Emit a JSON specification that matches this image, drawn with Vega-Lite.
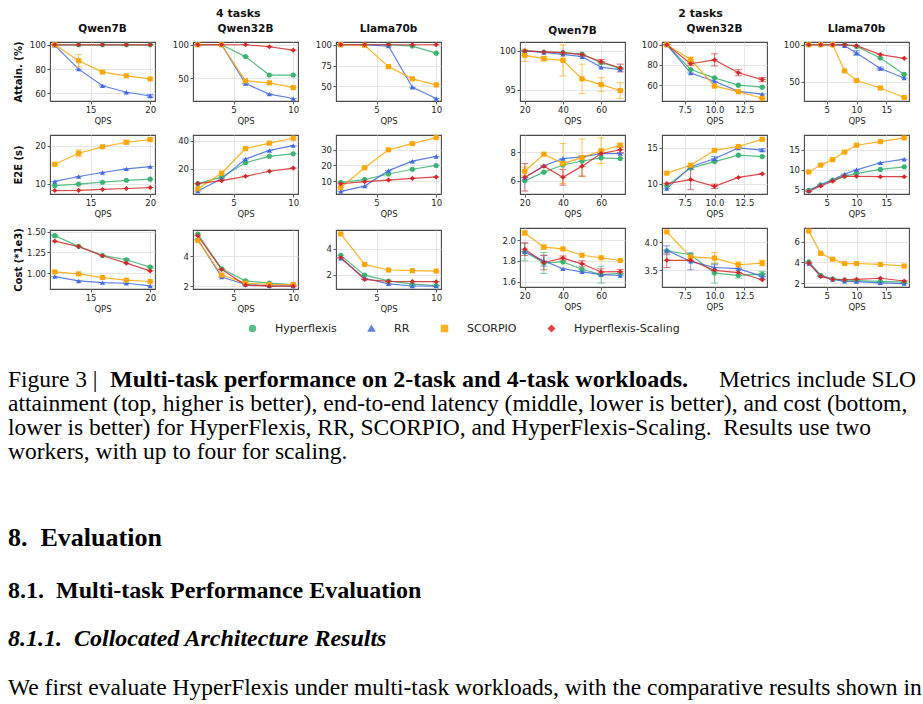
{
  "$schema": "https://vega.github.io/schema/vega-lite/v6.json",
  "background": "white",
  "padding": {"left": 8, "top": 7, "right": 5, "bottom": 5},
  "spacing": 33,
  "resolve": {"legend": {"color": "independent", "shape": "independent"}},
  "vconcat": [
    {
      "spacing": 52,
      "hconcat": [
        {
          "title": {"text": "4 tasks", "anchor": "middle", "fontSize": 11, "offset": 5, "dx": 11},
          "columns": 3,
          "align": "each",
          "spacing": {"row": 8, "column": 11},
          "concat": [
            {"width": 105, "height": 59, "title": "Qwen7B", "data": {"name": "a4q7"},
             "encoding": {
               "x": {"field": "qps", "type": "quantitative", "scale": {"domain": [11.6, 20.4], "nice": false, "zero": false}, "axis": {"values": [15, 20], "format": "d", "title": "QPS"}},
               "y": {"field": "value", "type": "quantitative", "scale": {"domain": [53.8, 102.3], "nice": false, "zero": false}, "axis": {"values": [60, 80, 100], "format": "d", "title": "Attain. (%)"}},
               "color": {"field": "method", "type": "nominal", "title": null, "scale": {"domain": ["Hyperflexis", "RR", "SCORPIO", "Hyperflexis-Scaling"], "range": ["#3cb371", "#4169e1", "#ffa500", "#d62728"]}}},
             "layer": [
               {"mark": {"type": "line", "strokeWidth": 1.2, "opacity": 0.85}},
               {"transform": [{"filter": "datum.err > 0"}], "mark": {"type": "errorbar", "ticks": true, "size": 7, "thickness": 1, "opacity": 0.65}, "encoding": {"yError": {"field": "err"}}},
               {"mark": {"type": "tick", "orient": "horizontal", "size": 7, "thickness": 1, "opacity": 0.65}},
               {"mark": {"type": "point", "filled": true, "size": 26, "opacity": 1}, "encoding": {"shape": {"field": "method", "type": "nominal", "title": null, "scale": {"domain": ["Hyperflexis", "RR", "SCORPIO", "Hyperflexis-Scaling"], "range": ["circle", "triangle-up", "square", "diamond"]}}}}]},
            {"width": 105, "height": 59, "title": "Qwen32B", "data": {"name": "a4q32"},
             "encoding": {
               "x": {"field": "qps", "type": "quantitative", "scale": {"domain": [1.6, 10.4], "nice": false, "zero": false}, "axis": {"values": [5, 10], "format": "d", "title": "QPS"}},
               "y": {"field": "value", "type": "quantitative", "scale": {"domain": [15.7, 104.1], "nice": false, "zero": false}, "axis": {"values": [50, 100], "format": "d", "title": null}},
               "color": {"field": "method", "type": "nominal", "title": null, "scale": {"domain": ["Hyperflexis", "RR", "SCORPIO", "Hyperflexis-Scaling"], "range": ["#3cb371", "#4169e1", "#ffa500", "#d62728"]}}},
             "layer": [
               {"mark": {"type": "line", "strokeWidth": 1.2, "opacity": 0.85}},
               {"transform": [{"filter": "datum.err > 0"}], "mark": {"type": "errorbar", "ticks": true, "size": 7, "thickness": 1, "opacity": 0.65}, "encoding": {"yError": {"field": "err"}}},
               {"mark": {"type": "tick", "orient": "horizontal", "size": 7, "thickness": 1, "opacity": 0.65}},
               {"mark": {"type": "point", "filled": true, "size": 26, "opacity": 1}, "encoding": {"shape": {"field": "method", "type": "nominal", "title": null, "scale": {"domain": ["Hyperflexis", "RR", "SCORPIO", "Hyperflexis-Scaling"], "range": ["circle", "triangle-up", "square", "diamond"]}}}}]},
            {"width": 105, "height": 59, "title": "Llama70b", "data": {"name": "a4l70"},
             "encoding": {
               "x": {"field": "qps", "type": "quantitative", "scale": {"domain": [1.6, 10.4], "nice": false, "zero": false}, "axis": {"values": [5, 10], "format": "d", "title": "QPS"}},
               "y": {"field": "value", "type": "quantitative", "scale": {"domain": [32.3, 103.3], "nice": false, "zero": false}, "axis": {"values": [50, 75, 100], "format": "d", "title": null}},
               "color": {"field": "method", "type": "nominal", "title": null, "scale": {"domain": ["Hyperflexis", "RR", "SCORPIO", "Hyperflexis-Scaling"], "range": ["#3cb371", "#4169e1", "#ffa500", "#d62728"]}}},
             "layer": [
               {"mark": {"type": "line", "strokeWidth": 1.2, "opacity": 0.85}},
               {"transform": [{"filter": "datum.err > 0"}], "mark": {"type": "errorbar", "ticks": true, "size": 7, "thickness": 1, "opacity": 0.65}, "encoding": {"yError": {"field": "err"}}},
               {"mark": {"type": "tick", "orient": "horizontal", "size": 7, "thickness": 1, "opacity": 0.65}},
               {"mark": {"type": "point", "filled": true, "size": 26, "opacity": 1}, "encoding": {"shape": {"field": "method", "type": "nominal", "title": null, "scale": {"domain": ["Hyperflexis", "RR", "SCORPIO", "Hyperflexis-Scaling"], "range": ["circle", "triangle-up", "square", "diamond"]}}}}]},
            {"width": 105, "height": 59, "data": {"name": "e4q7"},
             "encoding": {
               "x": {"field": "qps", "type": "quantitative", "scale": {"domain": [11.6, 20.4], "nice": false, "zero": false}, "axis": {"values": [15, 20], "format": "d", "title": "QPS"}},
               "y": {"field": "value", "type": "quantitative", "scale": {"domain": [7.3, 22.8], "nice": false, "zero": false}, "axis": {"values": [10, 20], "format": "d", "title": "E2E (s)"}},
               "color": {"field": "method", "type": "nominal", "title": null, "scale": {"domain": ["Hyperflexis", "RR", "SCORPIO", "Hyperflexis-Scaling"], "range": ["#3cb371", "#4169e1", "#ffa500", "#d62728"]}}},
             "layer": [
               {"mark": {"type": "line", "strokeWidth": 1.2, "opacity": 0.85}},
               {"transform": [{"filter": "datum.err > 0"}], "mark": {"type": "errorbar", "ticks": true, "size": 7, "thickness": 1, "opacity": 0.65}, "encoding": {"yError": {"field": "err"}}},
               {"mark": {"type": "tick", "orient": "horizontal", "size": 7, "thickness": 1, "opacity": 0.65}},
               {"mark": {"type": "point", "filled": true, "size": 26, "opacity": 1}, "encoding": {"shape": {"field": "method", "type": "nominal", "title": null, "scale": {"domain": ["Hyperflexis", "RR", "SCORPIO", "Hyperflexis-Scaling"], "range": ["circle", "triangle-up", "square", "diamond"]}}}}]},
            {"width": 105, "height": 59, "data": {"name": "e4q32"},
             "encoding": {
               "x": {"field": "qps", "type": "quantitative", "scale": {"domain": [1.6, 10.4], "nice": false, "zero": false}, "axis": {"values": [5, 10], "format": "d", "title": "QPS"}},
               "y": {"field": "value", "type": "quantitative", "scale": {"domain": [2.2, 43.9], "nice": false, "zero": false}, "axis": {"values": [20, 40], "format": "d", "title": null}},
               "color": {"field": "method", "type": "nominal", "title": null, "scale": {"domain": ["Hyperflexis", "RR", "SCORPIO", "Hyperflexis-Scaling"], "range": ["#3cb371", "#4169e1", "#ffa500", "#d62728"]}}},
             "layer": [
               {"mark": {"type": "line", "strokeWidth": 1.2, "opacity": 0.85}},
               {"transform": [{"filter": "datum.err > 0"}], "mark": {"type": "errorbar", "ticks": true, "size": 7, "thickness": 1, "opacity": 0.65}, "encoding": {"yError": {"field": "err"}}},
               {"mark": {"type": "tick", "orient": "horizontal", "size": 7, "thickness": 1, "opacity": 0.65}},
               {"mark": {"type": "point", "filled": true, "size": 26, "opacity": 1}, "encoding": {"shape": {"field": "method", "type": "nominal", "title": null, "scale": {"domain": ["Hyperflexis", "RR", "SCORPIO", "Hyperflexis-Scaling"], "range": ["circle", "triangle-up", "square", "diamond"]}}}}]},
            {"width": 105, "height": 59, "data": {"name": "e4l70"},
             "encoding": {
               "x": {"field": "qps", "type": "quantitative", "scale": {"domain": [1.6, 10.4], "nice": false, "zero": false}, "axis": {"values": [5, 10], "format": "d", "title": "QPS"}},
               "y": {"field": "value", "type": "quantitative", "scale": {"domain": [1.8, 39.2], "nice": false, "zero": false}, "axis": {"values": [10, 20, 30], "format": "d", "title": null}},
               "color": {"field": "method", "type": "nominal", "title": null, "scale": {"domain": ["Hyperflexis", "RR", "SCORPIO", "Hyperflexis-Scaling"], "range": ["#3cb371", "#4169e1", "#ffa500", "#d62728"]}}},
             "layer": [
               {"mark": {"type": "line", "strokeWidth": 1.2, "opacity": 0.85}},
               {"transform": [{"filter": "datum.err > 0"}], "mark": {"type": "errorbar", "ticks": true, "size": 7, "thickness": 1, "opacity": 0.65}, "encoding": {"yError": {"field": "err"}}},
               {"mark": {"type": "tick", "orient": "horizontal", "size": 7, "thickness": 1, "opacity": 0.65}},
               {"mark": {"type": "point", "filled": true, "size": 26, "opacity": 1}, "encoding": {"shape": {"field": "method", "type": "nominal", "title": null, "scale": {"domain": ["Hyperflexis", "RR", "SCORPIO", "Hyperflexis-Scaling"], "range": ["circle", "triangle-up", "square", "diamond"]}}}}]},
            {"width": 105, "height": 59, "data": {"name": "c4q7"},
             "encoding": {
               "x": {"field": "qps", "type": "quantitative", "scale": {"domain": [11.6, 20.4], "nice": false, "zero": false}, "axis": {"values": [15, 20], "format": "d", "title": "QPS"}},
               "y": {"field": "value", "type": "quantitative", "scale": {"domain": [0.81, 1.52], "nice": false, "zero": false}, "axis": {"values": [1.0, 1.25, 1.5], "format": ".2f", "title": "Cost (*1e3)"}},
               "color": {"field": "method", "type": "nominal", "title": null, "scale": {"domain": ["Hyperflexis", "RR", "SCORPIO", "Hyperflexis-Scaling"], "range": ["#3cb371", "#4169e1", "#ffa500", "#d62728"]}}},
             "layer": [
               {"mark": {"type": "line", "strokeWidth": 1.2, "opacity": 0.85}},
               {"transform": [{"filter": "datum.err > 0"}], "mark": {"type": "errorbar", "ticks": true, "size": 7, "thickness": 1, "opacity": 0.65}, "encoding": {"yError": {"field": "err"}}},
               {"mark": {"type": "tick", "orient": "horizontal", "size": 7, "thickness": 1, "opacity": 0.65}},
               {"mark": {"type": "point", "filled": true, "size": 26, "opacity": 1}, "encoding": {"shape": {"field": "method", "type": "nominal", "title": null, "scale": {"domain": ["Hyperflexis", "RR", "SCORPIO", "Hyperflexis-Scaling"], "range": ["circle", "triangle-up", "square", "diamond"]}}}}]},
            {"width": 105, "height": 59, "data": {"name": "c4q32"},
             "encoding": {
               "x": {"field": "qps", "type": "quantitative", "scale": {"domain": [1.6, 10.4], "nice": false, "zero": false}, "axis": {"values": [5, 10], "format": "d", "title": "QPS"}},
               "y": {"field": "value", "type": "quantitative", "scale": {"domain": [1.83, 5.75], "nice": false, "zero": false}, "axis": {"values": [2, 4], "format": "d", "title": null}},
               "color": {"field": "method", "type": "nominal", "title": null, "scale": {"domain": ["Hyperflexis", "RR", "SCORPIO", "Hyperflexis-Scaling"], "range": ["#3cb371", "#4169e1", "#ffa500", "#d62728"]}}},
             "layer": [
               {"mark": {"type": "line", "strokeWidth": 1.2, "opacity": 0.85}},
               {"transform": [{"filter": "datum.err > 0"}], "mark": {"type": "errorbar", "ticks": true, "size": 7, "thickness": 1, "opacity": 0.65}, "encoding": {"yError": {"field": "err"}}},
               {"mark": {"type": "tick", "orient": "horizontal", "size": 7, "thickness": 1, "opacity": 0.65}},
               {"mark": {"type": "point", "filled": true, "size": 26, "opacity": 1}, "encoding": {"shape": {"field": "method", "type": "nominal", "title": null, "scale": {"domain": ["Hyperflexis", "RR", "SCORPIO", "Hyperflexis-Scaling"], "range": ["circle", "triangle-up", "square", "diamond"]}}}}]},
            {"width": 105, "height": 59, "data": {"name": "c4l70"},
             "encoding": {
               "x": {"field": "qps", "type": "quantitative", "scale": {"domain": [1.6, 10.4], "nice": false, "zero": false}, "axis": {"values": [5, 10], "format": "d", "title": "QPS"}},
               "y": {"field": "value", "type": "quantitative", "scale": {"domain": [0.9, 5.44], "nice": false, "zero": false}, "axis": {"values": [2, 4], "format": "d", "title": null}},
               "color": {"field": "method", "type": "nominal", "title": null, "scale": {"domain": ["Hyperflexis", "RR", "SCORPIO", "Hyperflexis-Scaling"], "range": ["#3cb371", "#4169e1", "#ffa500", "#d62728"]}}},
             "layer": [
               {"mark": {"type": "line", "strokeWidth": 1.2, "opacity": 0.85}},
               {"transform": [{"filter": "datum.err > 0"}], "mark": {"type": "errorbar", "ticks": true, "size": 7, "thickness": 1, "opacity": 0.65}, "encoding": {"yError": {"field": "err"}}},
               {"mark": {"type": "tick", "orient": "horizontal", "size": 7, "thickness": 1, "opacity": 0.65}},
               {"mark": {"type": "point", "filled": true, "size": 26, "opacity": 1}, "encoding": {"shape": {"field": "method", "type": "nominal", "title": null, "scale": {"domain": ["Hyperflexis", "RR", "SCORPIO", "Hyperflexis-Scaling"], "range": ["circle", "triangle-up", "square", "diamond"]}}}}]}
          ]
        },
        {
          "title": {"text": "2 tasks", "anchor": "middle", "fontSize": 11, "offset": 5, "dx": -2},
          "columns": 3,
          "align": "each",
          "spacing": {"row": 8, "column": 11},
          "concat": [
            {"width": 105, "height": 59, "title": "Qwen7B", "data": {"name": "a2q7"},
             "encoding": {
               "x": {"field": "qps", "type": "quantitative", "scale": {"domain": [17.5, 72.5], "nice": false, "zero": false}, "axis": {"values": [20, 40, 60], "format": "d", "title": "QPS"}},
               "y": {"field": "value", "type": "quantitative", "scale": {"domain": [93.55, 101.15], "nice": false, "zero": false}, "axis": {"values": [95, 100], "format": "d", "title": null}},
               "color": {"field": "method", "type": "nominal", "title": null, "scale": {"domain": ["Hyperflexis", "RR", "SCORPIO", "Hyperflexis-Scaling"], "range": ["#3cb371", "#4169e1", "#ffa500", "#d62728"]}}},
             "layer": [
               {"mark": {"type": "line", "strokeWidth": 1.2, "opacity": 0.85}},
               {"transform": [{"filter": "datum.err > 0"}], "mark": {"type": "errorbar", "ticks": true, "size": 7, "thickness": 1, "opacity": 0.65}, "encoding": {"yError": {"field": "err"}}},
               {"mark": {"type": "tick", "orient": "horizontal", "size": 7, "thickness": 1, "opacity": 0.65}},
               {"mark": {"type": "point", "filled": true, "size": 26, "opacity": 1}, "encoding": {"shape": {"field": "method", "type": "nominal", "title": null, "scale": {"domain": ["Hyperflexis", "RR", "SCORPIO", "Hyperflexis-Scaling"], "range": ["circle", "triangle-up", "square", "diamond"]}}}}]},
            {"width": 105, "height": 59, "title": "Qwen32B", "data": {"name": "a2q32"},
             "encoding": {
               "x": {"field": "qps", "type": "quantitative", "scale": {"domain": [5.6, 14.4], "nice": false, "zero": false}, "axis": {"values": [7.5, 10, 12.5], "format": ".1f", "title": "QPS"}},
               "y": {"field": "value", "type": "quantitative", "scale": {"domain": [44.3, 102.7], "nice": false, "zero": false}, "axis": {"values": [60, 80, 100], "format": "d", "title": null}},
               "color": {"field": "method", "type": "nominal", "title": null, "scale": {"domain": ["Hyperflexis", "RR", "SCORPIO", "Hyperflexis-Scaling"], "range": ["#3cb371", "#4169e1", "#ffa500", "#d62728"]}}},
             "layer": [
               {"mark": {"type": "line", "strokeWidth": 1.2, "opacity": 0.85}},
               {"transform": [{"filter": "datum.err > 0"}], "mark": {"type": "errorbar", "ticks": true, "size": 7, "thickness": 1, "opacity": 0.65}, "encoding": {"yError": {"field": "err"}}},
               {"mark": {"type": "tick", "orient": "horizontal", "size": 7, "thickness": 1, "opacity": 0.65}},
               {"mark": {"type": "point", "filled": true, "size": 26, "opacity": 1}, "encoding": {"shape": {"field": "method", "type": "nominal", "title": null, "scale": {"domain": ["Hyperflexis", "RR", "SCORPIO", "Hyperflexis-Scaling"], "range": ["circle", "triangle-up", "square", "diamond"]}}}}]},
            {"width": 105, "height": 59, "title": "Llama70b", "data": {"name": "a2l70"},
             "encoding": {
               "x": {"field": "qps", "type": "quantitative", "scale": {"domain": [1.2, 18.8], "nice": false, "zero": false}, "axis": {"values": [5, 10, 15], "format": "d", "title": "QPS"}},
               "y": {"field": "value", "type": "quantitative", "scale": {"domain": [24.3, 103.7], "nice": false, "zero": false}, "axis": {"values": [50, 100], "format": "d", "title": null}},
               "color": {"field": "method", "type": "nominal", "title": null, "scale": {"domain": ["Hyperflexis", "RR", "SCORPIO", "Hyperflexis-Scaling"], "range": ["#3cb371", "#4169e1", "#ffa500", "#d62728"]}}},
             "layer": [
               {"mark": {"type": "line", "strokeWidth": 1.2, "opacity": 0.85}},
               {"transform": [{"filter": "datum.err > 0"}], "mark": {"type": "errorbar", "ticks": true, "size": 7, "thickness": 1, "opacity": 0.65}, "encoding": {"yError": {"field": "err"}}},
               {"mark": {"type": "tick", "orient": "horizontal", "size": 7, "thickness": 1, "opacity": 0.65}},
               {"mark": {"type": "point", "filled": true, "size": 26, "opacity": 1}, "encoding": {"shape": {"field": "method", "type": "nominal", "title": null, "scale": {"domain": ["Hyperflexis", "RR", "SCORPIO", "Hyperflexis-Scaling"], "range": ["circle", "triangle-up", "square", "diamond"]}}}}]},
            {"width": 105, "height": 59, "data": {"name": "e2q7"},
             "encoding": {
               "x": {"field": "qps", "type": "quantitative", "scale": {"domain": [17.5, 72.5], "nice": false, "zero": false}, "axis": {"values": [20, 40, 60], "format": "d", "title": "QPS"}},
               "y": {"field": "value", "type": "quantitative", "scale": {"domain": [5.07, 9.2], "nice": false, "zero": false}, "axis": {"values": [6, 8], "format": "d", "title": null}},
               "color": {"field": "method", "type": "nominal", "title": null, "scale": {"domain": ["Hyperflexis", "RR", "SCORPIO", "Hyperflexis-Scaling"], "range": ["#3cb371", "#4169e1", "#ffa500", "#d62728"]}}},
             "layer": [
               {"mark": {"type": "line", "strokeWidth": 1.2, "opacity": 0.85}},
               {"transform": [{"filter": "datum.err > 0"}], "mark": {"type": "errorbar", "ticks": true, "size": 7, "thickness": 1, "opacity": 0.65}, "encoding": {"yError": {"field": "err"}}},
               {"mark": {"type": "tick", "orient": "horizontal", "size": 7, "thickness": 1, "opacity": 0.65}},
               {"mark": {"type": "point", "filled": true, "size": 26, "opacity": 1}, "encoding": {"shape": {"field": "method", "type": "nominal", "title": null, "scale": {"domain": ["Hyperflexis", "RR", "SCORPIO", "Hyperflexis-Scaling"], "range": ["circle", "triangle-up", "square", "diamond"]}}}}]},
            {"width": 105, "height": 59, "data": {"name": "e2q32"},
             "encoding": {
               "x": {"field": "qps", "type": "quantitative", "scale": {"domain": [5.6, 14.4], "nice": false, "zero": false}, "axis": {"values": [7.5, 10, 12.5], "format": ".1f", "title": "QPS"}},
               "y": {"field": "value", "type": "quantitative", "scale": {"domain": [8.6, 16.8], "nice": false, "zero": false}, "axis": {"values": [10, 15], "format": "d", "title": null}},
               "color": {"field": "method", "type": "nominal", "title": null, "scale": {"domain": ["Hyperflexis", "RR", "SCORPIO", "Hyperflexis-Scaling"], "range": ["#3cb371", "#4169e1", "#ffa500", "#d62728"]}}},
             "layer": [
               {"mark": {"type": "line", "strokeWidth": 1.2, "opacity": 0.85}},
               {"transform": [{"filter": "datum.err > 0"}], "mark": {"type": "errorbar", "ticks": true, "size": 7, "thickness": 1, "opacity": 0.65}, "encoding": {"yError": {"field": "err"}}},
               {"mark": {"type": "tick", "orient": "horizontal", "size": 7, "thickness": 1, "opacity": 0.65}},
               {"mark": {"type": "point", "filled": true, "size": 26, "opacity": 1}, "encoding": {"shape": {"field": "method", "type": "nominal", "title": null, "scale": {"domain": ["Hyperflexis", "RR", "SCORPIO", "Hyperflexis-Scaling"], "range": ["circle", "triangle-up", "square", "diamond"]}}}}]},
            {"width": 105, "height": 59, "data": {"name": "e2l70"},
             "encoding": {
               "x": {"field": "qps", "type": "quantitative", "scale": {"domain": [1.2, 18.8], "nice": false, "zero": false}, "axis": {"values": [5, 10, 15], "format": "d", "title": "QPS"}},
               "y": {"field": "value", "type": "quantitative", "scale": {"domain": [3.8, 18.8], "nice": false, "zero": false}, "axis": {"values": [5, 10, 15], "format": "d", "title": null}},
               "color": {"field": "method", "type": "nominal", "title": null, "scale": {"domain": ["Hyperflexis", "RR", "SCORPIO", "Hyperflexis-Scaling"], "range": ["#3cb371", "#4169e1", "#ffa500", "#d62728"]}}},
             "layer": [
               {"mark": {"type": "line", "strokeWidth": 1.2, "opacity": 0.85}},
               {"transform": [{"filter": "datum.err > 0"}], "mark": {"type": "errorbar", "ticks": true, "size": 7, "thickness": 1, "opacity": 0.65}, "encoding": {"yError": {"field": "err"}}},
               {"mark": {"type": "tick", "orient": "horizontal", "size": 7, "thickness": 1, "opacity": 0.65}},
               {"mark": {"type": "point", "filled": true, "size": 26, "opacity": 1}, "encoding": {"shape": {"field": "method", "type": "nominal", "title": null, "scale": {"domain": ["Hyperflexis", "RR", "SCORPIO", "Hyperflexis-Scaling"], "range": ["circle", "triangle-up", "square", "diamond"]}}}}]},
            {"width": 105, "height": 59, "data": {"name": "c2q7"},
             "encoding": {
               "x": {"field": "qps", "type": "quantitative", "scale": {"domain": [17.5, 72.5], "nice": false, "zero": false}, "axis": {"values": [20, 40, 60], "format": "d", "title": "QPS"}},
               "y": {"field": "value", "type": "quantitative", "scale": {"domain": [1.55, 2.115], "nice": false, "zero": false}, "axis": {"values": [1.6, 1.8, 2.0], "format": ".1f", "title": null}},
               "color": {"field": "method", "type": "nominal", "title": null, "scale": {"domain": ["Hyperflexis", "RR", "SCORPIO", "Hyperflexis-Scaling"], "range": ["#3cb371", "#4169e1", "#ffa500", "#d62728"]}}},
             "layer": [
               {"mark": {"type": "line", "strokeWidth": 1.2, "opacity": 0.85}},
               {"transform": [{"filter": "datum.err > 0"}], "mark": {"type": "errorbar", "ticks": true, "size": 7, "thickness": 1, "opacity": 0.65}, "encoding": {"yError": {"field": "err"}}},
               {"mark": {"type": "tick", "orient": "horizontal", "size": 7, "thickness": 1, "opacity": 0.65}},
               {"mark": {"type": "point", "filled": true, "size": 26, "opacity": 1}, "encoding": {"shape": {"field": "method", "type": "nominal", "title": null, "scale": {"domain": ["Hyperflexis", "RR", "SCORPIO", "Hyperflexis-Scaling"], "range": ["circle", "triangle-up", "square", "diamond"]}}}}]},
            {"width": 105, "height": 59, "data": {"name": "c2q32"},
             "encoding": {
               "x": {"field": "qps", "type": "quantitative", "scale": {"domain": [5.6, 14.4], "nice": false, "zero": false}, "axis": {"values": [7.5, 10, 12.5], "format": ".1f", "title": "QPS"}},
               "y": {"field": "value", "type": "quantitative", "scale": {"domain": [3.2, 4.26], "nice": false, "zero": false}, "axis": {"values": [3.5, 4.0], "format": ".1f", "title": null}},
               "color": {"field": "method", "type": "nominal", "title": null, "scale": {"domain": ["Hyperflexis", "RR", "SCORPIO", "Hyperflexis-Scaling"], "range": ["#3cb371", "#4169e1", "#ffa500", "#d62728"]}}},
             "layer": [
               {"mark": {"type": "line", "strokeWidth": 1.2, "opacity": 0.85}},
               {"transform": [{"filter": "datum.err > 0"}], "mark": {"type": "errorbar", "ticks": true, "size": 7, "thickness": 1, "opacity": 0.65}, "encoding": {"yError": {"field": "err"}}},
               {"mark": {"type": "tick", "orient": "horizontal", "size": 7, "thickness": 1, "opacity": 0.65}},
               {"mark": {"type": "point", "filled": true, "size": 26, "opacity": 1}, "encoding": {"shape": {"field": "method", "type": "nominal", "title": null, "scale": {"domain": ["Hyperflexis", "RR", "SCORPIO", "Hyperflexis-Scaling"], "range": ["circle", "triangle-up", "square", "diamond"]}}}}]},
            {"width": 105, "height": 59, "data": {"name": "c2l70"},
             "encoding": {
               "x": {"field": "qps", "type": "quantitative", "scale": {"domain": [1.2, 18.8], "nice": false, "zero": false}, "axis": {"values": [5, 10, 15], "format": "d", "title": "QPS"}},
               "y": {"field": "value", "type": "quantitative", "scale": {"domain": [1.62, 7.3], "nice": false, "zero": false}, "axis": {"values": [2, 4, 6], "format": "d", "title": null}},
               "color": {"field": "method", "type": "nominal", "title": null, "scale": {"domain": ["Hyperflexis", "RR", "SCORPIO", "Hyperflexis-Scaling"], "range": ["#3cb371", "#4169e1", "#ffa500", "#d62728"]}}},
             "layer": [
               {"mark": {"type": "line", "strokeWidth": 1.2, "opacity": 0.85}},
               {"transform": [{"filter": "datum.err > 0"}], "mark": {"type": "errorbar", "ticks": true, "size": 7, "thickness": 1, "opacity": 0.65}, "encoding": {"yError": {"field": "err"}}},
               {"mark": {"type": "tick", "orient": "horizontal", "size": 7, "thickness": 1, "opacity": 0.65}},
               {"mark": {"type": "point", "filled": true, "size": 26, "opacity": 1}, "encoding": {"shape": {"field": "method", "type": "nominal", "title": null, "scale": {"domain": ["Hyperflexis", "RR", "SCORPIO", "Hyperflexis-Scaling"], "range": ["circle", "triangle-up", "square", "diamond"]}}}}]}
          ]
        }
      ]
    },
    {
      "spacing": 61,
      "vconcat": [
        {
          "width": 866, "height": 96,
          "view": {"stroke": null},
          "data": {"name": "caption"},
          "encoding": {
            "y": {"field": "line", "type": "ordinal", "axis": null},
            "text": {"field": "text"}
          },
          "layer": [
            {"transform": [{"filter": "datum.part === 'lead' || datum.part === 'body'"}],
             "mark": {"type": "text", "x": 0, "dx": -42, "align": "left", "baseline": "middle", "font": "Liberation Serif", "fontSize": 23.5, "color": "#000"}},
            {"transform": [{"filter": "datum.part === 'heading'"}],
             "mark": {"type": "text", "x": 0, "dx": 60, "align": "left", "baseline": "middle", "font": "Liberation Serif", "fontSize": 24, "fontWeight": "bold", "color": "#000"}},
            {"transform": [{"filter": "datum.part === 'tail'"}],
             "mark": {"type": "text", "x": "width", "align": "right", "baseline": "middle", "font": "Liberation Serif", "fontSize": 23.5, "color": "#000"}}
          ]
        },
        {
          "title": {"text": "8.\u00a0 Evaluation", "anchor": "start", "font": "Liberation Serif", "fontSize": 26, "fontWeight": "bold", "color": "#000", "offset": 28},
          "vconcat": [
            {
              "width": 866, "height": 30,
              "view": {"stroke": null},
              "title": {
                "text": "8.1.\u00a0 Multi-task Performance Evaluation",
                "subtitle": "8.1.1.\u00a0 Collocated Architecture Results",
                "anchor": "start", "font": "Liberation Serif", "fontSize": 24, "fontWeight": "bold", "color": "#000",
                "subtitleFont": "Liberation Serif", "subtitleFontSize": 24, "subtitleFontWeight": "bold", "subtitleFontStyle": "italic", "subtitleColor": "#000",
                "subtitlePadding": 24, "offset": 22
              },
              "data": {"name": "body"},
              "mark": {"type": "text", "x": 0, "dx": -42, "align": "left", "baseline": "middle", "font": "Liberation Serif", "fontSize": 23.5, "color": "#000"},
              "encoding": {"text": {"field": "text"}}
            }
          ]
        }
      ]
    }
  ],
  "datasets": {
    "caption": [
      {"line": 1, "part": "lead", "text": "Figure 3 |"},
      {"line": 1, "part": "heading", "text": "Multi-task performance on 2-task and 4-task workloads."},
      {"line": 1, "part": "tail", "text": "Metrics include SLO"},
      {"line": 2, "part": "body", "text": "attainment (top, higher is better), end-to-end latency (middle, lower is better), and cost (bottom,"},
      {"line": 3, "part": "body", "text": "lower is better) for HyperFlexis, RR, SCORPIO, and HyperFlexis-Scaling.\u00a0 Results use two"},
      {"line": 4, "part": "body", "text": "workers, with up to four for scaling."}
    ],
    "body": [
      {"text": "We first evaluate HyperFlexis under multi-task workloads, with the comparative results shown in"}
    ],
    "a4q7": [
      {"method": "Hyperflexis", "qps": 12, "value": 100}, {"method": "Hyperflexis", "qps": 14, "value": 100}, {"method": "Hyperflexis", "qps": 16, "value": 100}, {"method": "Hyperflexis", "qps": 18, "value": 100}, {"method": "Hyperflexis", "qps": 20, "value": 100},
      {"method": "RR", "qps": 12, "value": 99.5}, {"method": "RR", "qps": 14, "value": 80}, {"method": "RR", "qps": 16, "value": 66.3}, {"method": "RR", "qps": 18, "value": 61}, {"method": "RR", "qps": 20, "value": 57.9, "err": 1.2},
      {"method": "SCORPIO", "qps": 12, "value": 100}, {"method": "SCORPIO", "qps": 14, "value": 86.9, "err": 5}, {"method": "SCORPIO", "qps": 16, "value": 77.6}, {"method": "SCORPIO", "qps": 18, "value": 74.5}, {"method": "SCORPIO", "qps": 20, "value": 72},
      {"method": "Hyperflexis-Scaling", "qps": 12, "value": 100}, {"method": "Hyperflexis-Scaling", "qps": 14, "value": 100}, {"method": "Hyperflexis-Scaling", "qps": 16, "value": 100}, {"method": "Hyperflexis-Scaling", "qps": 18, "value": 100}, {"method": "Hyperflexis-Scaling", "qps": 20, "value": 100}
    ],
    "a4q32": [
      {"method": "Hyperflexis", "qps": 2, "value": 100}, {"method": "Hyperflexis", "qps": 4, "value": 100}, {"method": "Hyperflexis", "qps": 6, "value": 82.2}, {"method": "Hyperflexis", "qps": 8, "value": 54.6}, {"method": "Hyperflexis", "qps": 10, "value": 54.6},
      {"method": "RR", "qps": 2, "value": 100}, {"method": "RR", "qps": 4, "value": 100}, {"method": "RR", "qps": 6, "value": 41.8}, {"method": "RR", "qps": 8, "value": 26}, {"method": "RR", "qps": 10, "value": 19.4},
      {"method": "SCORPIO", "qps": 2, "value": 100}, {"method": "SCORPIO", "qps": 4, "value": 100}, {"method": "SCORPIO", "qps": 6, "value": 45.9}, {"method": "SCORPIO", "qps": 8, "value": 42.9}, {"method": "SCORPIO", "qps": 10, "value": 35.7},
      {"method": "Hyperflexis-Scaling", "qps": 2, "value": 100}, {"method": "Hyperflexis-Scaling", "qps": 4, "value": 100}, {"method": "Hyperflexis-Scaling", "qps": 6, "value": 100}, {"method": "Hyperflexis-Scaling", "qps": 8, "value": 97}, {"method": "Hyperflexis-Scaling", "qps": 10, "value": 91.9}
    ],
    "a4l70": [
      {"method": "Hyperflexis", "qps": 2, "value": 100}, {"method": "Hyperflexis", "qps": 4, "value": 100}, {"method": "Hyperflexis", "qps": 6, "value": 100}, {"method": "Hyperflexis", "qps": 8, "value": 98.4}, {"method": "Hyperflexis", "qps": 10, "value": 89.9},
      {"method": "RR", "qps": 2, "value": 100}, {"method": "RR", "qps": 4, "value": 100}, {"method": "RR", "qps": 6, "value": 98.4}, {"method": "RR", "qps": 8, "value": 48.8}, {"method": "RR", "qps": 10, "value": 35.4},
      {"method": "SCORPIO", "qps": 2, "value": 100}, {"method": "SCORPIO", "qps": 4, "value": 99.3}, {"method": "SCORPIO", "qps": 6, "value": 73.7}, {"method": "SCORPIO", "qps": 8, "value": 59}, {"method": "SCORPIO", "qps": 10, "value": 51.7},
      {"method": "Hyperflexis-Scaling", "qps": 2, "value": 100}, {"method": "Hyperflexis-Scaling", "qps": 4, "value": 100}, {"method": "Hyperflexis-Scaling", "qps": 6, "value": 100}, {"method": "Hyperflexis-Scaling", "qps": 8, "value": 100}, {"method": "Hyperflexis-Scaling", "qps": 10, "value": 100}
    ],
    "a2q7": [
      {"method": "Hyperflexis", "qps": 20, "value": 100}, {"method": "Hyperflexis", "qps": 30, "value": 99.87}, {"method": "Hyperflexis", "qps": 40, "value": 99.78}, {"method": "Hyperflexis", "qps": 50, "value": 99.6}, {"method": "Hyperflexis", "qps": 60, "value": 98.5}, {"method": "Hyperflexis", "qps": 70, "value": 97.75},
      {"method": "RR", "qps": 20, "value": 100}, {"method": "RR", "qps": 30, "value": 99.8}, {"method": "RR", "qps": 40, "value": 99.56}, {"method": "RR", "qps": 50, "value": 99.26}, {"method": "RR", "qps": 60, "value": 97.9}, {"method": "RR", "qps": 70, "value": 97.6},
      {"method": "SCORPIO", "qps": 20, "value": 99.43, "err": 0.8}, {"method": "SCORPIO", "qps": 30, "value": 99.0, "err": 0.3}, {"method": "SCORPIO", "qps": 40, "value": 98.78, "err": 2}, {"method": "SCORPIO", "qps": 50, "value": 96.4, "err": 1.9}, {"method": "SCORPIO", "qps": 60, "value": 95.65, "err": 0.9}, {"method": "SCORPIO", "qps": 70, "value": 94.9, "err": 1},
      {"method": "Hyperflexis-Scaling", "qps": 20, "value": 100}, {"method": "Hyperflexis-Scaling", "qps": 30, "value": 99.87}, {"method": "Hyperflexis-Scaling", "qps": 40, "value": 99.78}, {"method": "Hyperflexis-Scaling", "qps": 50, "value": 99.52}, {"method": "Hyperflexis-Scaling", "qps": 60, "value": 98.6, "err": 0.3}, {"method": "Hyperflexis-Scaling", "qps": 70, "value": 97.8, "err": 0.5}
    ],
    "a2q32": [
      {"method": "Hyperflexis", "qps": 6, "value": 100}, {"method": "Hyperflexis", "qps": 8, "value": 75.4}, {"method": "Hyperflexis", "qps": 10, "value": 67.2}, {"method": "Hyperflexis", "qps": 12, "value": 60}, {"method": "Hyperflexis", "qps": 14, "value": 58},
      {"method": "RR", "qps": 6, "value": 100}, {"method": "RR", "qps": 8, "value": 72}, {"method": "RR", "qps": 10, "value": 63.8}, {"method": "RR", "qps": 12, "value": 53.8}, {"method": "RR", "qps": 14, "value": 51.2},
      {"method": "SCORPIO", "qps": 6, "value": 100}, {"method": "SCORPIO", "qps": 8, "value": 85.3, "err": 2.5}, {"method": "SCORPIO", "qps": 10, "value": 59}, {"method": "SCORPIO", "qps": 12, "value": 53.5}, {"method": "SCORPIO", "qps": 14, "value": 47},
      {"method": "Hyperflexis-Scaling", "qps": 6, "value": 100}, {"method": "Hyperflexis-Scaling", "qps": 8, "value": 81.2, "err": 2}, {"method": "Hyperflexis-Scaling", "qps": 10, "value": 85, "err": 6}, {"method": "Hyperflexis-Scaling", "qps": 12, "value": 72.3, "err": 3}, {"method": "Hyperflexis-Scaling", "qps": 14, "value": 65.5, "err": 2}
    ],
    "a2l70": [
      {"method": "Hyperflexis", "qps": 2, "value": 100}, {"method": "Hyperflexis", "qps": 4, "value": 100}, {"method": "Hyperflexis", "qps": 6, "value": 100}, {"method": "Hyperflexis", "qps": 8, "value": 100}, {"method": "Hyperflexis", "qps": 10, "value": 97.8}, {"method": "Hyperflexis", "qps": 14, "value": 82.1}, {"method": "Hyperflexis", "qps": 18, "value": 60.1},
      {"method": "RR", "qps": 2, "value": 100}, {"method": "RR", "qps": 4, "value": 100}, {"method": "RR", "qps": 6, "value": 100}, {"method": "RR", "qps": 8, "value": 98.7}, {"method": "RR", "qps": 10, "value": 89, "err": 3}, {"method": "RR", "qps": 14, "value": 68, "err": 2}, {"method": "RR", "qps": 18, "value": 55.2},
      {"method": "SCORPIO", "qps": 2, "value": 100}, {"method": "SCORPIO", "qps": 4, "value": 100}, {"method": "SCORPIO", "qps": 6, "value": 100}, {"method": "SCORPIO", "qps": 8, "value": 64.8}, {"method": "SCORPIO", "qps": 10, "value": 51.9}, {"method": "SCORPIO", "qps": 14, "value": 41.8}, {"method": "SCORPIO", "qps": 18, "value": 29},
      {"method": "Hyperflexis-Scaling", "qps": 2, "value": 100}, {"method": "Hyperflexis-Scaling", "qps": 4, "value": 100}, {"method": "Hyperflexis-Scaling", "qps": 6, "value": 100}, {"method": "Hyperflexis-Scaling", "qps": 8, "value": 100}, {"method": "Hyperflexis-Scaling", "qps": 10, "value": 98.7}, {"method": "Hyperflexis-Scaling", "qps": 14, "value": 86.8}, {"method": "Hyperflexis-Scaling", "qps": 18, "value": 81.7}
    ],
    "e4q7": [
      {"method": "Hyperflexis", "qps": 12, "value": 9.5}, {"method": "Hyperflexis", "qps": 14, "value": 9.9}, {"method": "Hyperflexis", "qps": 16, "value": 10.4}, {"method": "Hyperflexis", "qps": 18, "value": 10.9}, {"method": "Hyperflexis", "qps": 20, "value": 11.2},
      {"method": "RR", "qps": 12, "value": 10.6}, {"method": "RR", "qps": 14, "value": 11.9}, {"method": "RR", "qps": 16, "value": 12.95}, {"method": "RR", "qps": 18, "value": 13.9}, {"method": "RR", "qps": 20, "value": 14.5},
      {"method": "SCORPIO", "qps": 12, "value": 15.1}, {"method": "SCORPIO", "qps": 14, "value": 18.0, "err": 0.9}, {"method": "SCORPIO", "qps": 16, "value": 19.7}, {"method": "SCORPIO", "qps": 18, "value": 20.9, "err": 0.5}, {"method": "SCORPIO", "qps": 20, "value": 21.6, "err": 0.4},
      {"method": "Hyperflexis-Scaling", "qps": 12, "value": 8.2}, {"method": "Hyperflexis-Scaling", "qps": 14, "value": 8.25}, {"method": "Hyperflexis-Scaling", "qps": 16, "value": 8.5}, {"method": "Hyperflexis-Scaling", "qps": 18, "value": 8.75}, {"method": "Hyperflexis-Scaling", "qps": 20, "value": 9.0}
    ],
    "e4q32": [
      {"method": "Hyperflexis", "qps": 2, "value": 9.5}, {"method": "Hyperflexis", "qps": 4, "value": 14.1}, {"method": "Hyperflexis", "qps": 6, "value": 24.3}, {"method": "Hyperflexis", "qps": 8, "value": 28.8}, {"method": "Hyperflexis", "qps": 10, "value": 30.7},
      {"method": "RR", "qps": 2, "value": 4.3}, {"method": "RR", "qps": 4, "value": 12.9}, {"method": "RR", "qps": 6, "value": 26.9}, {"method": "RR", "qps": 8, "value": 33}, {"method": "RR", "qps": 10, "value": 36.4},
      {"method": "SCORPIO", "qps": 2, "value": 5.9}, {"method": "SCORPIO", "qps": 4, "value": 16.9}, {"method": "SCORPIO", "qps": 6, "value": 34.3}, {"method": "SCORPIO", "qps": 8, "value": 38.1}, {"method": "SCORPIO", "qps": 10, "value": 41.6},
      {"method": "Hyperflexis-Scaling", "qps": 2, "value": 9.5}, {"method": "Hyperflexis-Scaling", "qps": 4, "value": 11.6}, {"method": "Hyperflexis-Scaling", "qps": 6, "value": 14.7}, {"method": "Hyperflexis-Scaling", "qps": 8, "value": 18.3}, {"method": "Hyperflexis-Scaling", "qps": 10, "value": 20.5}
    ],
    "e4l70": [
      {"method": "Hyperflexis", "qps": 2, "value": 9.2}, {"method": "Hyperflexis", "qps": 4, "value": 10.9}, {"method": "Hyperflexis", "qps": 6, "value": 14.5}, {"method": "Hyperflexis", "qps": 8, "value": 17.5}, {"method": "Hyperflexis", "qps": 10, "value": 19.9},
      {"method": "RR", "qps": 2, "value": 3.5}, {"method": "RR", "qps": 4, "value": 6.8}, {"method": "RR", "qps": 6, "value": 16.6}, {"method": "RR", "qps": 8, "value": 22.6}, {"method": "RR", "qps": 10, "value": 25.6},
      {"method": "SCORPIO", "qps": 2, "value": 5.9}, {"method": "SCORPIO", "qps": 4, "value": 18.4}, {"method": "SCORPIO", "qps": 6, "value": 29.8}, {"method": "SCORPIO", "qps": 8, "value": 33.7}, {"method": "SCORPIO", "qps": 10, "value": 37.5},
      {"method": "Hyperflexis-Scaling", "qps": 2, "value": 8.3}, {"method": "Hyperflexis-Scaling", "qps": 4, "value": 9.6}, {"method": "Hyperflexis-Scaling", "qps": 6, "value": 10.6}, {"method": "Hyperflexis-Scaling", "qps": 8, "value": 11.7}, {"method": "Hyperflexis-Scaling", "qps": 10, "value": 12.6}
    ],
    "e2q7": [
      {"method": "Hyperflexis", "qps": 20, "value": 6.0}, {"method": "Hyperflexis", "qps": 30, "value": 6.6}, {"method": "Hyperflexis", "qps": 40, "value": 7.1}, {"method": "Hyperflexis", "qps": 50, "value": 7.38}, {"method": "Hyperflexis", "qps": 60, "value": 7.6}, {"method": "Hyperflexis", "qps": 70, "value": 7.55},
      {"method": "RR", "qps": 20, "value": 6.2}, {"method": "RR", "qps": 30, "value": 7.05}, {"method": "RR", "qps": 40, "value": 7.55}, {"method": "RR", "qps": 50, "value": 7.67}, {"method": "RR", "qps": 60, "value": 7.9}, {"method": "RR", "qps": 70, "value": 7.9},
      {"method": "SCORPIO", "qps": 20, "value": 6.66, "err": 0.3}, {"method": "SCORPIO", "qps": 30, "value": 7.86}, {"method": "SCORPIO", "qps": 40, "value": 7.2, "err": 1.4}, {"method": "SCORPIO", "qps": 50, "value": 7.62, "err": 1.3}, {"method": "SCORPIO", "qps": 60, "value": 8.1, "err": 0.9}, {"method": "SCORPIO", "qps": 70, "value": 8.48, "err": 0.15},
      {"method": "Hyperflexis-Scaling", "qps": 20, "value": 6.24, "err": 0.96}, {"method": "Hyperflexis-Scaling", "qps": 30, "value": 7.02}, {"method": "Hyperflexis-Scaling", "qps": 40, "value": 6.24, "err": 0.55}, {"method": "Hyperflexis-Scaling", "qps": 50, "value": 7.02, "err": 0.7}, {"method": "Hyperflexis-Scaling", "qps": 60, "value": 7.9}, {"method": "Hyperflexis-Scaling", "qps": 70, "value": 8.17, "err": 0.2}
    ],
    "e2q32": [
      {"method": "Hyperflexis", "qps": 6, "value": 9.75}, {"method": "Hyperflexis", "qps": 8, "value": 12.2}, {"method": "Hyperflexis", "qps": 10, "value": 13.1}, {"method": "Hyperflexis", "qps": 12, "value": 14.0}, {"method": "Hyperflexis", "qps": 14, "value": 13.8},
      {"method": "RR", "qps": 6, "value": 9.35}, {"method": "RR", "qps": 8, "value": 12.4}, {"method": "RR", "qps": 10, "value": 13.5, "err": 0.3}, {"method": "RR", "qps": 12, "value": 15.0}, {"method": "RR", "qps": 14, "value": 14.7, "err": 0.2},
      {"method": "SCORPIO", "qps": 6, "value": 11.5}, {"method": "SCORPIO", "qps": 8, "value": 12.6}, {"method": "SCORPIO", "qps": 10, "value": 14.67}, {"method": "SCORPIO", "qps": 12, "value": 15.2}, {"method": "SCORPIO", "qps": 14, "value": 16.2},
      {"method": "Hyperflexis-Scaling", "qps": 6, "value": 10.05}, {"method": "Hyperflexis-Scaling", "qps": 8, "value": 10.6, "err": 1.4}, {"method": "Hyperflexis-Scaling", "qps": 10, "value": 9.67, "err": 0.3}, {"method": "Hyperflexis-Scaling", "qps": 12, "value": 10.9}, {"method": "Hyperflexis-Scaling", "qps": 14, "value": 11.4}
    ],
    "e2l70": [
      {"method": "Hyperflexis", "qps": 2, "value": 4.75}, {"method": "Hyperflexis", "qps": 4, "value": 6.15}, {"method": "Hyperflexis", "qps": 6, "value": 7.35}, {"method": "Hyperflexis", "qps": 8, "value": 8.35}, {"method": "Hyperflexis", "qps": 10, "value": 9.0}, {"method": "Hyperflexis", "qps": 14, "value": 10.05}, {"method": "Hyperflexis", "qps": 18, "value": 10.7},
      {"method": "RR", "qps": 2, "value": 4.6}, {"method": "RR", "qps": 4, "value": 6.15}, {"method": "RR", "qps": 6, "value": 7.4}, {"method": "RR", "qps": 8, "value": 8.85}, {"method": "RR", "qps": 10, "value": 9.95}, {"method": "RR", "qps": 14, "value": 11.75}, {"method": "RR", "qps": 18, "value": 12.65},
      {"method": "SCORPIO", "qps": 2, "value": 9.4}, {"method": "SCORPIO", "qps": 4, "value": 11.15}, {"method": "SCORPIO", "qps": 6, "value": 12.55}, {"method": "SCORPIO", "qps": 8, "value": 14.45}, {"method": "SCORPIO", "qps": 10, "value": 16.2}, {"method": "SCORPIO", "qps": 14, "value": 17.1}, {"method": "SCORPIO", "qps": 18, "value": 18.05},
      {"method": "Hyperflexis-Scaling", "qps": 2, "value": 4.5}, {"method": "Hyperflexis-Scaling", "qps": 4, "value": 5.85}, {"method": "Hyperflexis-Scaling", "qps": 6, "value": 7.05}, {"method": "Hyperflexis-Scaling", "qps": 8, "value": 8.3}, {"method": "Hyperflexis-Scaling", "qps": 10, "value": 8.3}, {"method": "Hyperflexis-Scaling", "qps": 14, "value": 8.2}, {"method": "Hyperflexis-Scaling", "qps": 18, "value": 8.2}
    ],
    "c4q7": [
      {"method": "Hyperflexis", "qps": 12, "value": 1.452, "err": 0.015}, {"method": "Hyperflexis", "qps": 14, "value": 1.323}, {"method": "Hyperflexis", "qps": 16, "value": 1.214}, {"method": "Hyperflexis", "qps": 18, "value": 1.162, "err": 0.015}, {"method": "Hyperflexis", "qps": 20, "value": 1.073, "err": 0.01},
      {"method": "RR", "qps": 12, "value": 0.96}, {"method": "RR", "qps": 14, "value": 0.907}, {"method": "RR", "qps": 16, "value": 0.887}, {"method": "RR", "qps": 18, "value": 0.879}, {"method": "RR", "qps": 20, "value": 0.847},
      {"method": "SCORPIO", "qps": 12, "value": 1.016}, {"method": "SCORPIO", "qps": 14, "value": 0.992}, {"method": "SCORPIO", "qps": 16, "value": 0.948}, {"method": "SCORPIO", "qps": 18, "value": 0.916}, {"method": "SCORPIO", "qps": 20, "value": 0.9},
      {"method": "Hyperflexis-Scaling", "qps": 12, "value": 1.386}, {"method": "Hyperflexis-Scaling", "qps": 14, "value": 1.32}, {"method": "Hyperflexis-Scaling", "qps": 16, "value": 1.21}, {"method": "Hyperflexis-Scaling", "qps": 18, "value": 1.121}, {"method": "Hyperflexis-Scaling", "qps": 20, "value": 1.028}
    ],
    "c4q32": [
      {"method": "Hyperflexis", "qps": 2, "value": 5.48}, {"method": "Hyperflexis", "qps": 4, "value": 3.18}, {"method": "Hyperflexis", "qps": 6, "value": 2.37}, {"method": "Hyperflexis", "qps": 8, "value": 2.22}, {"method": "Hyperflexis", "qps": 10, "value": 2.13},
      {"method": "RR", "qps": 2, "value": 5.12}, {"method": "RR", "qps": 4, "value": 2.63}, {"method": "RR", "qps": 6, "value": 2.13}, {"method": "RR", "qps": 8, "value": 2.04}, {"method": "RR", "qps": 10, "value": 2.02},
      {"method": "SCORPIO", "qps": 2, "value": 5.05}, {"method": "SCORPIO", "qps": 4, "value": 2.76}, {"method": "SCORPIO", "qps": 6, "value": 2.22}, {"method": "SCORPIO", "qps": 8, "value": 2.13}, {"method": "SCORPIO", "qps": 10, "value": 2.13},
      {"method": "Hyperflexis-Scaling", "qps": 2, "value": 5.37}, {"method": "Hyperflexis-Scaling", "qps": 4, "value": 3.13}, {"method": "Hyperflexis-Scaling", "qps": 6, "value": 2.09}, {"method": "Hyperflexis-Scaling", "qps": 8, "value": 2.02}, {"method": "Hyperflexis-Scaling", "qps": 10, "value": 2.02}
    ],
    "c4l70": [
      {"method": "Hyperflexis", "qps": 2, "value": 3.49}, {"method": "Hyperflexis", "qps": 4, "value": 1.97}, {"method": "Hyperflexis", "qps": 6, "value": 1.52}, {"method": "Hyperflexis", "qps": 8, "value": 1.27}, {"method": "Hyperflexis", "qps": 10, "value": 1.17},
      {"method": "RR", "qps": 2, "value": 3.27}, {"method": "RR", "qps": 4, "value": 1.73}, {"method": "RR", "qps": 6, "value": 1.3}, {"method": "RR", "qps": 8, "value": 1.13}, {"method": "RR", "qps": 10, "value": 1.12},
      {"method": "SCORPIO", "qps": 2, "value": 5.14}, {"method": "SCORPIO", "qps": 4, "value": 2.79}, {"method": "SCORPIO", "qps": 6, "value": 2.36}, {"method": "SCORPIO", "qps": 8, "value": 2.31}, {"method": "SCORPIO", "qps": 10, "value": 2.28},
      {"method": "Hyperflexis-Scaling", "qps": 2, "value": 3.32}, {"method": "Hyperflexis-Scaling", "qps": 4, "value": 1.63}, {"method": "Hyperflexis-Scaling", "qps": 6, "value": 1.48}, {"method": "Hyperflexis-Scaling", "qps": 8, "value": 1.47}, {"method": "Hyperflexis-Scaling", "qps": 10, "value": 1.46}
    ],
    "c2q7": [
      {"method": "Hyperflexis", "qps": 20, "value": 1.886, "err": 0.085}, {"method": "Hyperflexis", "qps": 30, "value": 1.78, "err": 0.1}, {"method": "Hyperflexis", "qps": 40, "value": 1.79}, {"method": "Hyperflexis", "qps": 50, "value": 1.72}, {"method": "Hyperflexis", "qps": 60, "value": 1.668, "err": 0.08}, {"method": "Hyperflexis", "qps": 70, "value": 1.68},
      {"method": "RR", "qps": 20, "value": 1.89}, {"method": "RR", "qps": 30, "value": 1.8, "err": 0.05}, {"method": "RR", "qps": 40, "value": 1.725}, {"method": "RR", "qps": 50, "value": 1.695}, {"method": "RR", "qps": 60, "value": 1.669}, {"method": "RR", "qps": 70, "value": 1.66},
      {"method": "SCORPIO", "qps": 20, "value": 2.068, "err": 0.02}, {"method": "SCORPIO", "qps": 30, "value": 1.932, "err": 0.02}, {"method": "SCORPIO", "qps": 40, "value": 1.915}, {"method": "SCORPIO", "qps": 50, "value": 1.854}, {"method": "SCORPIO", "qps": 60, "value": 1.83}, {"method": "SCORPIO", "qps": 70, "value": 1.804},
      {"method": "Hyperflexis-Scaling", "qps": 20, "value": 1.912, "err": 0.06}, {"method": "Hyperflexis-Scaling", "qps": 30, "value": 1.785, "err": 0.07}, {"method": "Hyperflexis-Scaling", "qps": 40, "value": 1.827, "err": 0.02}, {"method": "Hyperflexis-Scaling", "qps": 50, "value": 1.772, "err": 0.03}, {"method": "Hyperflexis-Scaling", "qps": 60, "value": 1.694, "err": 0.03}, {"method": "Hyperflexis-Scaling", "qps": 70, "value": 1.697, "err": 0.02}
    ],
    "c2q32": [
      {"method": "Hyperflexis", "qps": 6, "value": 3.85}, {"method": "Hyperflexis", "qps": 8, "value": 3.78}, {"method": "Hyperflexis", "qps": 10, "value": 3.45, "err": 0.18}, {"method": "Hyperflexis", "qps": 12, "value": 3.41, "err": 0.05}, {"method": "Hyperflexis", "qps": 14, "value": 3.43, "err": 0.05},
      {"method": "RR", "qps": 6, "value": 3.86, "err": 0.08}, {"method": "RR", "qps": 8, "value": 3.66, "err": 0.15}, {"method": "RR", "qps": 10, "value": 3.55, "err": 0.05}, {"method": "RR", "qps": 12, "value": 3.53}, {"method": "RR", "qps": 14, "value": 3.39, "err": 0.05},
      {"method": "SCORPIO", "qps": 6, "value": 4.19}, {"method": "SCORPIO", "qps": 8, "value": 3.74}, {"method": "SCORPIO", "qps": 10, "value": 3.72, "err": 0.1}, {"method": "SCORPIO", "qps": 12, "value": 3.6, "err": 0.05}, {"method": "SCORPIO", "qps": 14, "value": 3.63, "err": 0.05},
      {"method": "Hyperflexis-Scaling", "qps": 6, "value": 3.68, "err": 0.13}, {"method": "Hyperflexis-Scaling", "qps": 8, "value": 3.68}, {"method": "Hyperflexis-Scaling", "qps": 10, "value": 3.5}, {"method": "Hyperflexis-Scaling", "qps": 12, "value": 3.46}, {"method": "Hyperflexis-Scaling", "qps": 14, "value": 3.33}
    ],
    "c2l70": [
      {"method": "Hyperflexis", "qps": 2, "value": 4.05}, {"method": "Hyperflexis", "qps": 4, "value": 2.75}, {"method": "Hyperflexis", "qps": 6, "value": 2.4}, {"method": "Hyperflexis", "qps": 8, "value": 2.3}, {"method": "Hyperflexis", "qps": 10, "value": 2.24}, {"method": "Hyperflexis", "qps": 14, "value": 2.16}, {"method": "Hyperflexis", "qps": 18, "value": 2.08},
      {"method": "RR", "qps": 2, "value": 3.88}, {"method": "RR", "qps": 4, "value": 2.7}, {"method": "RR", "qps": 6, "value": 2.35}, {"method": "RR", "qps": 8, "value": 2.16}, {"method": "RR", "qps": 10, "value": 2.14}, {"method": "RR", "qps": 14, "value": 2.02}, {"method": "RR", "qps": 18, "value": 1.95},
      {"method": "SCORPIO", "qps": 2, "value": 7.0}, {"method": "SCORPIO", "qps": 4, "value": 4.86}, {"method": "SCORPIO", "qps": 6, "value": 4.3}, {"method": "SCORPIO", "qps": 8, "value": 3.88}, {"method": "SCORPIO", "qps": 10, "value": 3.88}, {"method": "SCORPIO", "qps": 14, "value": 3.79}, {"method": "SCORPIO", "qps": 18, "value": 3.64},
      {"method": "Hyperflexis-Scaling", "qps": 2, "value": 3.94}, {"method": "Hyperflexis-Scaling", "qps": 4, "value": 2.64}, {"method": "Hyperflexis-Scaling", "qps": 6, "value": 2.36}, {"method": "Hyperflexis-Scaling", "qps": 8, "value": 2.32}, {"method": "Hyperflexis-Scaling", "qps": 10, "value": 2.36}, {"method": "Hyperflexis-Scaling", "qps": 14, "value": 2.46}, {"method": "Hyperflexis-Scaling", "qps": 18, "value": 2.2}
    ]
  },
  "config": {
    "font": "DejaVu Sans",
    "view": {"stroke": "#4a4a4a", "strokeWidth": 1.1},
    "axis": {
      "labelFont": "DejaVu Sans", "labelFontSize": 8.5, "labelColor": "#262626",
      "titleFont": "DejaVu Sans", "titleFontSize": 8.5, "titleFontWeight": "normal", "titleColor": "#262626",
      "tickColor": "#333333", "tickSize": 3, "tickWidth": 0.8,
      "domain": false, "grid": true, "gridColor": "#e0e0e0", "gridWidth": 0.8,
      "labelPadding": 1.5, "titlePadding": 2, "labelFlush": false, "labelOverlap": false
    },
    "axisY": {"minExtent": 24, "maxExtent": 24, "titleFontWeight": "bold", "titleFontSize": 10, "titlePadding": 3, "titleColor": "#111111"},
    "title": {"font": "DejaVu Sans", "fontSize": 10.5, "fontWeight": "bold", "color": "#111111", "offset": 6},
    "legend": {
      "orient": "none", "legendX": 197, "legendY": 281, "direction": "horizontal", "gridAlign": "none",
      "labelFont": "DejaVu Sans", "labelFontSize": 11, "labelColor": "#222222",
      "symbolSize": 36, "labelOffset": 17, "columnPadding": 28, "padding": 0
    }
  }
}
